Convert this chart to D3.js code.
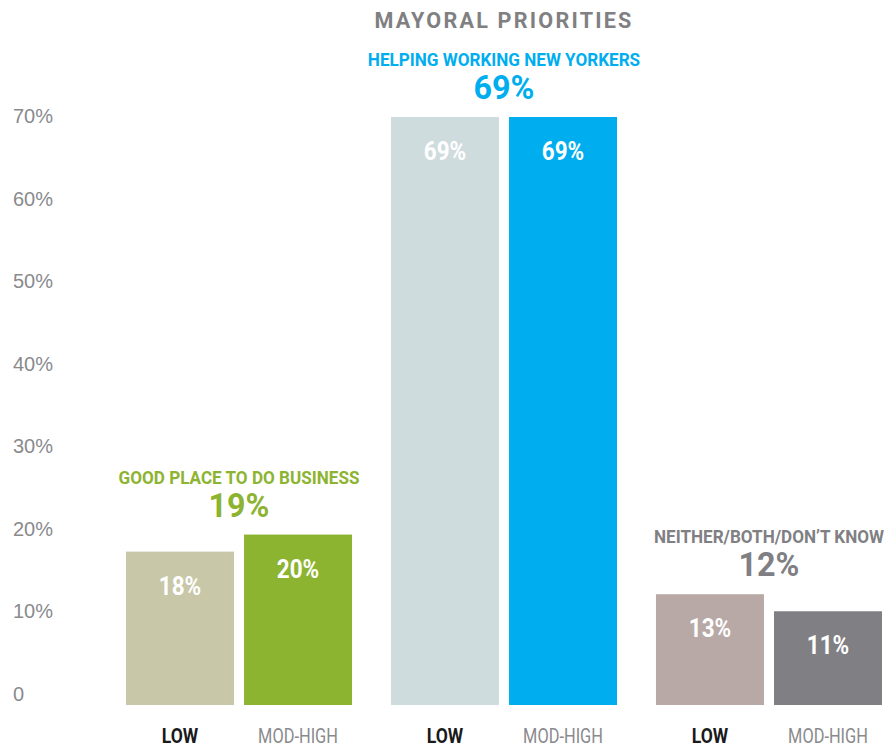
<!DOCTYPE html>
<html>
<head>
<meta charset="utf-8">
<script src="https://cdn.jsdelivr.net/npm/d3@7/dist/d3.min.js"></script>
<style>
  html, body { margin: 0; padding: 0; background: #fff; }
  svg { display: block; }
  .cond { font-family: "Roboto", "Liberation Sans", sans-serif; }
</style>
</head>
<body>
<svg id="chart" width="896" height="748"></svg>
<script>
// ---- data ----
const groups = ["GOOD PLACE TO DO BUSINESS", "HELPING WORKING NEW YORKERS", "NEITHER/BOTH/DON\u2019T KNOW"];
const groupTotals = [19, 69, 12];
const segments = ["LOW", "MOD-HIGH"];
const lowValues = [18, 69, 13];
const modHighValues = [20, 69, 11];
const yTicks = [0, 10, 20, 30, 40, 50, 60, 70];
const title = "MAYORAL PRIORITIES";

// ---- styles ----
const groupColors = ["#8db431", "#00aeef", "#808084"];
const lowColors = ["#c8c7a8", "#cfdcdd", "#b8a9a7"];
const modColors = ["#8db431", "#00aeef", "#808084"];

const svg = d3.select("#chart");

// bar scale
const y = d3.scaleLinear().domain([0, 69]).range([705, 117]);
// tick label scale
const yLabel = d3.scaleLinear().domain([0, 70]).range([701, 123]);

const x0 = d3.scaleBand().domain(groups).range([126, 882]).paddingInner(0.147).paddingOuter(0);
const x1 = d3.scaleBand().domain(segments).range([0, x0.bandwidth()]).paddingInner(0.085).paddingOuter(0);

// condensed text helper: places text at (x,y) with horizontal compression
function condText(sel, x, y, sx) {
  return sel.attr("x", 0).attr("y", 0)
    .attr("transform", (d, i, n) => {
      const xx = typeof x === "function" ? x(d, i, n) : x;
      const yy = typeof y === "function" ? y(d, i, n) : y;
      const ss = typeof sx === "function" ? sx(d, i, n) : sx;
      return `translate(${xx},${yy}) scale(${ss},1)`;
    });
}

// title
condText(svg.append("text"), 504, 28, 0.96)
  .attr("class", "cond")
  .attr("text-anchor", "middle")
  .attr("font-size", 22.5).attr("font-weight", "bold")
  .attr("letter-spacing", 2.3)
  .attr("fill", "#808083")
  .text(title);

// y tick labels
svg.append("g").selectAll("text").data(yTicks).join("text")
  .attr("x", 13).attr("y", d => yLabel(d))
  .attr("font-family", "'Liberation Sans', Arial, sans-serif")
  .attr("font-size", 20)
  .attr("fill", "#8a8a8d")
  .text(d => d === 0 ? "0" : d + "%");

const data = groups.map((g, i) => ({
  group: g, i,
  bars: [
    { seg: "LOW", value: lowValues[i], color: lowColors[i] },
    { seg: "MOD-HIGH", value: modHighValues[i], color: modColors[i] }
  ]
}));

const gg = svg.append("g").selectAll("g").data(data).join("g")
  .attr("transform", d => `translate(${x0(d.group)},0)`);

gg.selectAll("rect").data(d => d.bars).join("rect")
  .attr("x", d => x1(d.seg))
  .attr("width", x1.bandwidth())
  .attr("y", d => y(d.value))
  .attr("height", d => y(0) - y(d.value))
  .attr("fill", d => d.color);

condText(gg.selectAll("text.val").data(d => d.bars).join("text"),
    d => x1(d.seg) + x1.bandwidth() / 2, d => y(d.value) + 43, 0.9)
  .attr("class", "val cond")
  .attr("text-anchor", "middle")
  .attr("font-size", 25).attr("font-weight", "bold")
  .attr("fill", "#fff")
  .text(d => d.value + "%");

// x labels
condText(gg.selectAll("text.seg").data(d => d.bars).join("text"),
    d => x1(d.seg) + x1.bandwidth() / 2, 743, d => d.seg === "LOW" ? 0.88 : 0.82)
  .attr("class", "seg cond")
  .attr("text-anchor", "middle")
  .attr("font-size", 20)
  .attr("font-weight", d => d.seg === "LOW" ? "bold" : "normal")
  .attr("fill", d => d.seg === "LOW" ? "#1a1a1a" : "#8a8a8d")
  .text(d => d.seg);

// group annotations
condText(gg.append("text"), x0.bandwidth() / 2, d => y(d3.max(d.bars, b => b.value)) - 51, 0.9)
  .attr("class", "cond")
  .attr("text-anchor", "middle")
  .attr("font-size", 19).attr("font-weight", "bold")
  .attr("fill", d => groupColors[d.i])
  .text(d => d.group);

condText(gg.append("text"), x0.bandwidth() / 2, d => y(d3.max(d.bars, b => b.value)) - 18, 0.95)
  .attr("class", "cond")
  .attr("text-anchor", "middle")
  .attr("font-size", 34).attr("font-weight", "bold")
  .attr("fill", d => groupColors[d.i])
  .text(d => groupTotals[d.i] + "%");
</script>
</body>
</html>
